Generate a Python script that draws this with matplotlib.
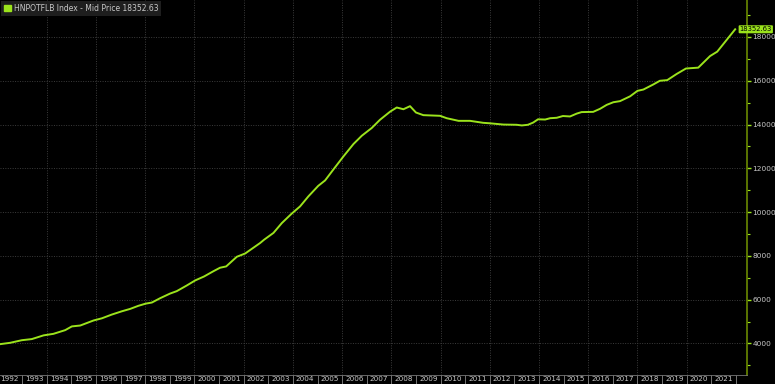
import matplotlib
matplotlib.use("Agg")
import matplotlib.pyplot as plt
from matplotlib.patches import Patch
from matplotlib.ticker import MultipleLocator, FixedLocator, NullFormatter
import matplotlib.transforms as mtransforms

# values (decimal year, index level)
years = [1992.11, 1992.51, 1992.99, 1993.39, 1993.87, 1994.27, 1994.75, 1995.02,
         1995.36, 1995.90, 1996.24, 1996.64, 1997.05, 1997.39, 1997.72, 1998.02,
         1998.27, 1998.61, 1999.01, 1999.28, 1999.69, 2000.03, 2000.39, 2000.77,
         2001.04, 2001.29, 2001.72, 2002.06, 2002.67, 2002.83, 2003.21, 2003.55,
         2003.95, 2004.29, 2004.63, 2005.03, 2005.31, 2005.64, 2006.05, 2006.46,
         2006.80, 2007.20, 2007.54, 2007.95, 2008.22, 2008.49, 2008.76, 2009.00,
         2009.30, 2009.98, 2010.25, 2010.73, 2011.20, 2011.73, 2011.98, 2012.55,
         2013.09, 2013.30, 2013.55, 2013.76, 2013.96, 2014.25, 2014.45, 2014.72,
         2014.97, 2015.26, 2015.53, 2015.73, 2016.20, 2016.48, 2016.75, 2017.02,
         2017.29, 2017.70, 2018.00, 2018.24, 2018.64, 2018.91, 2019.21, 2019.59,
         2019.97, 2020.47, 2020.95, 2021.24, 2021.97]
values = [3970, 4030, 4150, 4200, 4370, 4440, 4610, 4780,
          4820, 5050, 5150, 5320, 5470, 5580, 5720, 5820,
          5870, 6070, 6280, 6390, 6650, 6880, 7060, 7300,
          7460, 7520, 7960, 8110, 8590, 8740, 9050, 9500,
          9930, 10260, 10720, 11200, 11450, 11940, 12540, 13110,
          13490, 13840, 14220, 14590, 14780, 14700, 14840, 14550,
          14430, 14400, 14290, 14170, 14170, 14080, 14060, 14000,
          13990, 13960, 13990, 14090, 14240, 14230, 14290, 14310,
          14390, 14370, 14500, 14570, 14580, 14720, 14900, 15020,
          15070, 15290, 15540, 15600, 15830, 16000, 16030, 16310,
          16560, 16600, 17130, 17330, 18352.63]
last_value = 18352.63
series_name = "HNPOTFLB Index - Mid Price"
year_labels = list(range(1992, 2022))

green = "#9be31c"
grid_col = "#3c3c3c"
text_col = "#c8c8c8"

fig = plt.figure(figsize=(7.75, 3.84), dpi=100, facecolor="black")
ax = fig.add_axes([0, 9 / 384, 747 / 775, 375 / 384])
ax.set_facecolor("black")

ax.plot(years, values, color=green, lw=1.4)

ax.set_xlim(1992.10, 2022.45)
ax.set_ylim(2560, 19690)

# y axis on the right
ax.yaxis.tick_right()
ax.yaxis.set_minor_locator(MultipleLocator(1000))
ax.set_yticks(range(4000, 18001, 2000))
ax.tick_params(axis="y", which="major", colors=green, length=3, width=1,
               labelcolor=text_col, labelsize=5.3, pad=1)
ax.tick_params(axis="y", which="minor", colors=green, length=2, width=0.8)

# x axis: separators at year starts, labels in the middle of each year
ax.xaxis.set_major_locator(FixedLocator(year_labels + [2022]))
ax.xaxis.set_major_formatter(NullFormatter())
ax.xaxis.set_minor_locator(FixedLocator([y + 0.5 for y in year_labels]))
ax.set_xticklabels([str(y) for y in year_labels], minor=True)
ax.tick_params(axis="x", which="major", colors="#888888", length=7, width=0.6)
ax.tick_params(axis="x", which="minor", length=0, labelcolor=text_col,
               labelsize=5.2, pad=0.5)

for s in ["top", "left"]:
    ax.spines[s].set_visible(False)
ax.spines["right"].set_color("#6a8a00")
ax.spines["right"].set_linewidth(1.2)
ax.spines["bottom"].set_color("#777777")
ax.spines["bottom"].set_linewidth(0.6)

# grid: horizontal every 2000, vertical every other year
for v in range(4000, 18001, 2000):
    ax.axhline(v, color=grid_col, lw=0.7, ls=(0, (1, 1.5)), zorder=0)
for y in range(1994, 2022, 2):
    ax.axvline(y, color=grid_col, lw=0.7, ls=(0, (1, 1.5)), zorder=0)

# last value tag, pinned to the right edge of the figure
trans = mtransforms.blended_transform_factory(fig.transFigure, ax.transData)
ax.text(0.996, last_value, f"{last_value:.2f}", transform=trans, fontsize=4.9,
        color="black", va="center", ha="right", clip_on=False,
        bbox=dict(boxstyle="round,pad=0.15", fc=green, ec="none"))

leg = ax.legend(handles=[Patch(color=green)],
                labels=[f"{series_name} {last_value:.2f}"],
                loc="upper left", bbox_to_anchor=(0, 1), borderaxespad=0.1,
                fontsize=5.5, frameon=True, facecolor="#1e1e1e",
                edgecolor="none", framealpha=1, handlelength=0.9,
                handleheight=0.9, handletextpad=0.4, borderpad=0.4)
for t in leg.get_texts():
    t.set_color(text_col)
leg.get_frame().set_boxstyle("square", pad=0)

fig.savefig("out.png", dpi=100, facecolor="black")
